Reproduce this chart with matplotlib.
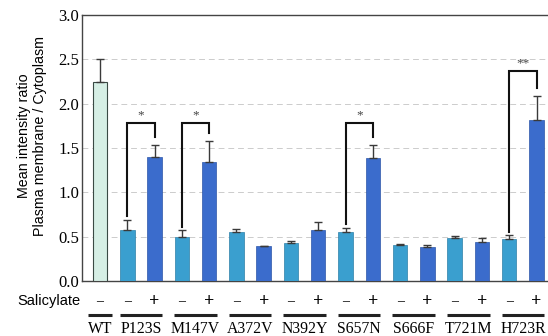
import matplotlib
matplotlib.use("Agg")
import matplotlib.pyplot as plt
import numpy as np
from matplotlib.transforms import blended_transform_factory

groups = ["WT", "P123S", "M147V", "A372V", "N392Y", "S657N", "S666F", "T721M", "H723R"]
wt_value = 2.24
wt_err = 0.26
minus_values = [0.58, 0.50, 0.55, 0.43, 0.55, 0.41, 0.48, 0.47]
minus_errs = [0.11, 0.07, 0.04, 0.02, 0.05, 0.005, 0.03, 0.045]
plus_values = [1.40, 1.34, 0.39, 0.575, 1.39, 0.38, 0.44, 1.815]
plus_errs = [0.13, 0.24, 0.01, 0.095, 0.14, 0.03, 0.05, 0.275]
# significance: group index (within mutants), bracket height, label
sig_groups = [0, 1, 4, 7]
sig_heights = [1.78, 1.78, 1.78, 2.37]
sig_labels = ["*", "*", "*", "**"]
ytick_vals = [0.0, 0.5, 1.0, 1.5, 2.0, 2.5, 3.0]

c_wt = "#d6efe5"
c_minus = "#3a9fcf"
c_plus = "#3b6ccc"

fig = plt.figure(figsize=(5.48, 3.36), dpi=100)
ax = fig.add_axes([0.1496, 0.1637, 0.8504, 0.7913])

w = 0.53
n = len(minus_values)
x_wt = 0.0
x_minus = np.array([1 + 2 * i for i in range(n)], dtype=float)
x_plus = x_minus + 1

ax.bar([x_wt], [wt_value], width=w, color=c_wt, edgecolor="#3a4a44", linewidth=0.8, zorder=3)
ax.errorbar([x_wt], [wt_value], yerr=[[0], [wt_err]], fmt="none", ecolor="#3a3a3a",
            elinewidth=1.0, capsize=3, capthick=1.0, zorder=4)
ax.bar(x_minus, minus_values, width=w, color=c_minus, edgecolor="#2d7fa8", linewidth=0.5, zorder=3)
ax.errorbar(x_minus, minus_values, yerr=[np.zeros(n), minus_errs], fmt="none", ecolor="#3a3a3a",
            elinewidth=1.0, capsize=3, capthick=1.0, zorder=4)
ax.bar(x_plus, plus_values, width=w, color=c_plus, edgecolor="#2c55a8", linewidth=0.5, zorder=3)
ax.errorbar(x_plus, plus_values, yerr=[np.zeros(n), plus_errs], fmt="none", ecolor="#3a3a3a",
            elinewidth=1.0, capsize=3, capthick=1.0, zorder=4)

# significance brackets
for gi, h, lab in zip(sig_groups, sig_heights, sig_labels):
    xl = x_minus[gi]
    xr = x_plus[gi]
    yl = minus_values[gi] + minus_errs[gi] + 0.04
    yr = plus_values[gi] + plus_errs[gi] + 0.09
    ax.plot([xl, xl, xr, xr], [yl, h, h, yr], color="#111111", lw=1.5, zorder=5,
            solid_joinstyle="miter")
    ax.text((xl + xr) / 2, h + 0.02, lab, ha="center", va="bottom", fontsize=9.5,
            family="Liberation Serif", color="#444444")

ax.set_ylim(0, 3.0)
ax.set_xlim(-0.66, 16.42)
ax.set_yticks(ytick_vals)
ax.set_yticklabels([f"{v:.1f}" for v in ytick_vals], family="Liberation Serif", fontsize=12)
ax.tick_params(axis="y", length=0, pad=2)
ax.set_xticks([])
for yv in ytick_vals[1:-1]:
    ax.axhline(yv, color="#cccccc", lw=0.7, ls=(0, (6, 4)), zorder=1)

for s in ["left", "bottom", "top"]:
    ax.spines[s].set_color("#444444")
    ax.spines[s].set_linewidth(1.0)
ax.spines["right"].set_visible(False)

ax.set_ylabel("Mean intensity ratio\nPlasma membrane / Cytoplasm", family="Liberation Sans",
              fontsize=10.3, linespacing=1.1)
ax.yaxis.set_label_coords(-0.076, 0.545)

trans = blended_transform_factory(ax.transData, ax.transAxes)
y_sign = -0.077
y_line = -0.128
y_lab = -0.180
ax.text(-0.72, y_sign, "Salicylate", transform=trans, ha="right", va="center",
        family="Liberation Sans", fontsize=10.5, clip_on=False)
ax.text(x_wt, y_sign, "\u2013", transform=trans, ha="center", va="center",
        family="Liberation Serif", fontsize=10, clip_on=False)
for xm, xp in zip(x_minus, x_plus):
    ax.text(xm, y_sign, "\u2013", transform=trans, ha="center", va="center",
            family="Liberation Serif", fontsize=10, clip_on=False)
    ax.text(xp, y_sign, "+", transform=trans, ha="center", va="center",
            family="Liberation Serif", fontsize=13, fontweight="bold", clip_on=False)

centers = [x_wt] + list((x_minus + x_plus) / 2)
halfw = [0.44] + [0.78] * n
for c, hw, g in zip(centers, halfw, groups):
    ax.plot([c - hw, c + hw], [y_line, y_line], transform=trans, color="#222222", lw=2.2,
            clip_on=False, solid_capstyle="butt")
    ax.text(c, y_lab, g, transform=trans, ha="center", va="center",
            family="Liberation Serif", fontsize=11.3, clip_on=False)

fig.savefig("out.png", dpi=100)
